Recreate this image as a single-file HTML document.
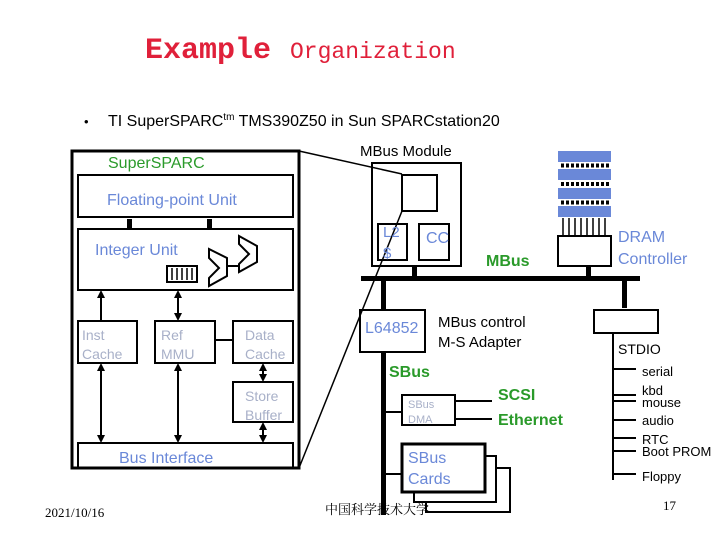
<!DOCTYPE html>
<html><head><meta charset="utf-8"><style>
body{margin:0;background:#fff}
svg{display:block}
text{font-family:"Liberation Sans",sans-serif}
.g{fill:#2a9a2a;font-weight:bold}
.b{fill:#6a88d8}
.gr{fill:#a8b0c8}
</style></head><body>
<svg width="720" height="540" viewBox="0 0 720 540" xmlns="http://www.w3.org/2000/svg">
<text x="145" y="58" style="font-family:'Liberation Mono',monospace" font-size="30" font-weight="bold" fill="#e0203a">Example</text>
<text x="290" y="58" style="font-family:'Liberation Mono',monospace" font-size="23" fill="#e0203a">Organization</text>
<text x="84" y="126" font-size="13">•</text>
<text x="108" y="126" font-size="16">TI SuperSPARC<tspan font-size="10" dy="-6">tm</tspan><tspan dy="6"> TMS390Z50 in Sun SPARCstation20</tspan></text>

<g fill="none" stroke="#000">
<rect x="72" y="151" width="227" height="317" stroke-width="3"/>
<rect x="78" y="175" width="215" height="42" stroke-width="2"/>
<rect x="78" y="229" width="215" height="61" stroke-width="2"/>
<rect x="78" y="321" width="59" height="42" stroke-width="2"/>
<rect x="155" y="321" width="60" height="42" stroke-width="2"/>
<rect x="233" y="321" width="60" height="42" stroke-width="2"/>
<rect x="233" y="382" width="60" height="40" stroke-width="2"/>
<rect x="78" y="443" width="215" height="25" stroke-width="2"/>
<line x1="215" y1="340" x2="233" y2="340" stroke-width="2"/>
<rect x="167" y="266" width="30" height="16" stroke-width="2"/>
<path d="M172 268v12M177 268v12M182 268v12M187 268v12M192 268v12" stroke-width="1.5"/>
<path d="M209 249L227 258L227 276L209 286L209 278L219 268L209 258Z" stroke-width="2"/>
<path d="M239 236L257 246L257 262L239 272L239 264L249 254L239 244Z" stroke-width="2"/>
<line x1="227" y1="266" x2="239" y2="266" stroke-width="2"/>
<line x1="101" y1="294" x2="101" y2="321" stroke-width="2"/>
<line x1="178" y1="294" x2="178" y2="317" stroke-width="2"/>
<line x1="101" y1="367" x2="101" y2="439" stroke-width="2"/>
<line x1="178" y1="367" x2="178" y2="439" stroke-width="2"/>
<line x1="263" y1="367" x2="263" y2="378" stroke-width="2"/>
<line x1="263" y1="426" x2="263" y2="439" stroke-width="2"/>
<line x1="299" y1="151" x2="402" y2="174" stroke-width="1.5"/>
<line x1="299" y1="468" x2="402" y2="211" stroke-width="1.5"/>
<rect x="372" y="163" width="89" height="103" stroke-width="2"/>
<rect x="402" y="175" width="35" height="36" stroke-width="2"/>
<rect x="378" y="224" width="29" height="36" stroke-width="2"/>
<rect x="419" y="224" width="30" height="36" stroke-width="2"/>
<rect x="558" y="236" width="53" height="30" stroke-width="2"/>
<path d="M563 218v18M569 218v18M575 218v18M581 218v18M587 218v18M593 218v18M599 218v18M605 218v18" stroke-width="1.5"/>
<path d="M561 165.5h48M561 184h48M561 202.5h48" stroke-width="4" stroke-dasharray="3 2"/>
<rect x="360" y="310" width="65" height="42" stroke-width="2"/>
<rect x="402" y="395" width="53" height="30" stroke-width="2"/>
<path d="M455 401h37M455 419h37M383 412h19M383 474h19" stroke-width="2"/>
<path d="M414 492v10h82v-46h-11M426 502v10h84v-44h-14" stroke-width="2"/>
<rect x="402" y="444" width="83" height="48" stroke-width="3"/>
<rect x="594" y="310" width="64" height="23" stroke-width="2"/>
<path d="M613 333v147M613 369h23M613 395h23M613 401h23M613 420h23M613 438h23M613 451h23M613 474h23" stroke-width="2"/>
</g>
<g fill="#000">
<rect x="127" y="219" width="5" height="9"/><rect x="207" y="219" width="5" height="9"/>
<path d="M101 290l-4 8h8zM178 290l-4 8h8zM178 321l-4-8h8zM101 363l-4 8h8zM101 443l-4-8h8zM178 363l-4 8h8zM178 443l-4-8h8zM263 363l-4 8h8zM263 382l-4-8h8zM263 422l-4 8h8zM263 443l-4-8h8z"/>
<rect x="361" y="276" width="279" height="5"/>
<rect x="412" y="266" width="5" height="12"/><rect x="586" y="266" width="5" height="12"/>
<rect x="381" y="278" width="5" height="32"/><rect x="622" y="278" width="5" height="30"/>
<rect x="381" y="352" width="5" height="163"/>
</g>
<g fill="#6a88d8">
<rect x="558" y="151" width="53" height="11"/><rect x="558" y="169" width="53" height="11"/>
<rect x="558" y="188" width="53" height="11"/><rect x="558" y="206" width="53" height="11"/>
</g>
<text x="108" y="168" font-size="16" class="g" style="font-weight:normal">SuperSPARC</text>
<text x="107" y="205" font-size="16" class="b">Floating-point Unit</text>
<text x="95" y="255" font-size="16" class="b">Integer Unit</text>
<text x="82" y="340" font-size="14" class="gr">Inst</text><text x="82" y="359" font-size="14" class="gr">Cache</text>
<text x="161" y="340" font-size="14" class="gr">Ref</text><text x="161" y="359" font-size="14" class="gr">MMU</text>
<text x="245" y="340" font-size="14" class="gr">Data</text><text x="245" y="359" font-size="14" class="gr">Cache</text>
<text x="245" y="401" font-size="14" class="gr">Store</text><text x="245" y="420" font-size="14" class="gr">Buffer</text>
<text x="119" y="463" font-size="16" class="b">Bus Interface</text>
<text x="360" y="156" font-size="15">MBus Module</text>
<text x="383" y="237" font-size="15" class="b">L2</text><text x="383" y="258" font-size="15" class="b">$</text>
<text x="426" y="243" font-size="16" class="b">CC</text>
<text x="486" y="266" font-size="16" class="g">MBus</text>
<text x="618" y="242" font-size="16" class="b">DRAM</text>
<text x="618" y="264" font-size="16" class="b">Controller</text>
<text x="365" y="333" font-size="16" class="b">L64852</text>
<text x="438" y="327" font-size="15">MBus control</text>
<text x="438" y="347" font-size="15">M-S Adapter</text>
<text x="389" y="377" font-size="16" class="g">SBus</text>
<text x="408" y="408" font-size="11" class="gr">SBus</text><text x="408" y="423" font-size="11" class="gr">DMA</text>
<text x="498" y="400" font-size="16" class="g">SCSI</text>
<text x="498" y="425" font-size="16" class="g">Ethernet</text>
<text x="408" y="463" font-size="16" class="b">SBus</text><text x="408" y="484" font-size="16" class="b">Cards</text>
<text x="618" y="354" font-size="14">STDIO</text>
<text x="642" y="376" font-size="13">serial</text>
<text x="642" y="395" font-size="13">kbd</text>
<text x="642" y="407" font-size="13">mouse</text>
<text x="642" y="425" font-size="13">audio</text>
<text x="642" y="444" font-size="13">RTC</text>
<text x="642" y="456" font-size="13">Boot PROM</text>
<text x="642" y="481" font-size="13">Floppy</text>
<text x="45" y="517" font-size="13" style="font-family:'Liberation Serif',serif">2021/10/16</text>
<text x="325" y="514" font-size="13" style="font-family:'Liberation Serif','Noto Serif CJK SC',serif">中国科学技术大学</text>
<text x="663" y="510" font-size="13" style="font-family:'Liberation Serif',serif">17</text>
</svg>
</body></html>
